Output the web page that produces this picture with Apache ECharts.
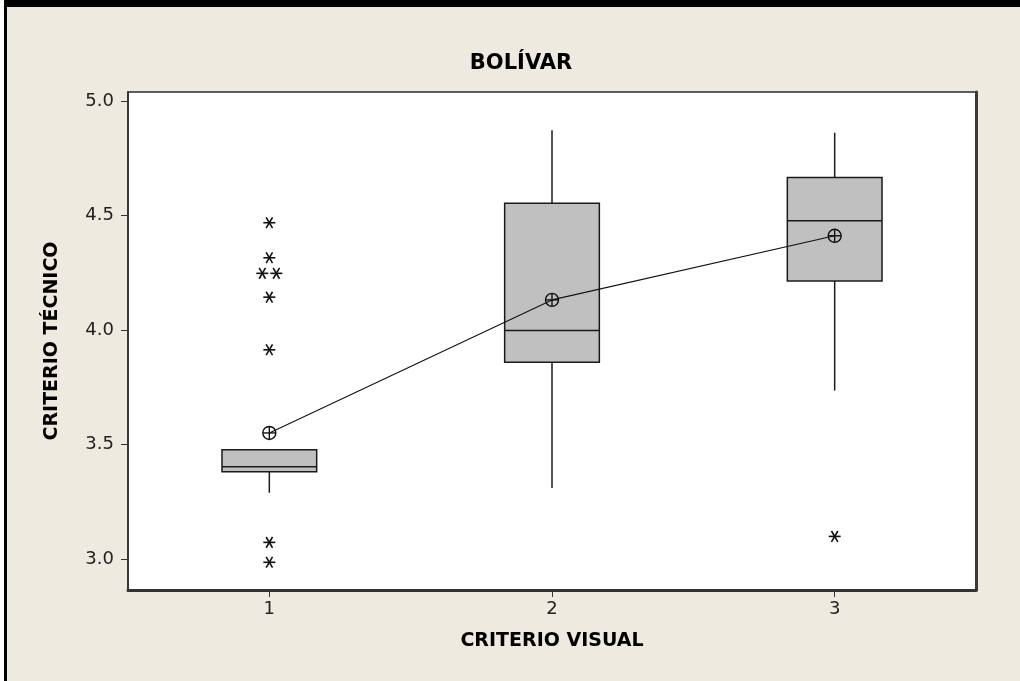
<!DOCTYPE html>
<html>
<head>
<meta charset="utf-8">
<title>BOLÍVAR</title>
<script src="https://cdn.jsdelivr.net/npm/echarts@6/dist/echarts.min.js"></script>
<style>
  html, body { margin: 0; padding: 0; background: #ffffff; }
  #frame { position: absolute; left: 0; top: 0; width: 1020px; height: 681px; background: #ffffff; }
  #panel { position: absolute; left: 4px; top: 0; width: 1016px; height: 681px; background: #eeeae0;
           border-top: 7px solid #000; border-left: 3px solid #000; box-sizing: border-box; }
  #chart { position: absolute; left: 0; top: 0; width: 1020px; height: 681px; }
</style>
</head>
<body>
<div id="frame"><div id="panel"></div></div>
<div id="chart"></div>
<script>
// Groups on the horizontal axis
const categories = ['1', '2', '3'];

// Five-number summaries per group (whisker ends, quartiles, median)
const whiskerLow  = [3.29, 3.31, 3.736];
const quartile1   = [3.381, 3.86, 4.215];
const medians     = [3.403, 3.998, 4.478];
const quartile3   = [3.477, 4.554, 4.667];
const whiskerHigh = [3.477, 4.873, 4.862];

// Group means, joined by a line
const means = [3.551, 4.132, 4.412];

// Outlying observations per group
const outliers1 = [4.469, 4.316, 4.248, 4.248, 4.144, 3.914, 3.073, 2.986];
const outliers2 = [];
const outliers3 = [3.099];

// Vertical axis tick values
const yTicks = [3.0, 3.5, 4.0, 4.5, 5.0];

const boxData = categories.map((c, i) =>
  [i, whiskerLow[i], quartile1[i], medians[i], quartile3[i], whiskerHigh[i]]);

// Outlier points; tied values get a slot index so they sit side by side
const outlierData = [];
[outliers1, outliers2, outliers3].forEach((list, i) => {
  const counts = {};
  list.forEach(v => { counts[v] = (counts[v] || 0) + 1; });
  const seen = {};
  list.forEach(v => {
    const k = seen[v] || 0;
    seen[v] = k + 1;
    outlierData.push([i, v, k - (counts[v] - 1) / 2]);
  });
});

const meanData = means.map((m, i) => [i, m]);

const ink = '#1a1a1a';
const labelFont = { fontFamily: 'DejaVu Sans', fontSize: 18, color: '#222' };
const nameFont = { fontFamily: 'DejaVu Sans', fontWeight: 'bold', fontSize: 19, color: '#000' };
const chart = echarts.init(document.getElementById('chart'), null, { renderer: 'canvas' });

chart.setOption({
  backgroundColor: 'transparent',
  animation: false,
  title: {
    text: 'BOLÍVAR',
    left: 516,
    top: 48,
    textAlign: 'center',
    textStyle: { fontFamily: 'DejaVu Sans', fontWeight: 'bold', fontSize: 21, color: '#000' }
  },
  grid: {
    left: 128, right: 44, top: 92, bottom: 91,
    show: true, backgroundColor: '#ffffff', borderColor: '#2b2b2b', borderWidth: 1.5,
    outerBoundsMode: 'none'
  },
  xAxis: {
    type: 'category',
    data: categories,
    boundaryGap: true,
    name: 'CRITERIO VISUAL',
    nameLocation: 'middle',
    nameGap: 42,
    nameTextStyle: nameFont,
    axisLine: { show: true, lineStyle: { color: '#333', width: 3 } },
    axisTick: { show: true, alignWithLabel: true, length: 7, lineStyle: { color: '#333', width: 1 } },
    axisLabel: Object.assign({ margin: 10 }, labelFont),
    splitLine: { show: false }
  },
  yAxis: [{
    type: 'value',
    min: 2.865,
    max: 5.04,
    name: 'CRITERIO TÉCNICO',
    nameLocation: 'middle',
    nameGap: 66,
    nameRotate: 90,
    nameTextStyle: nameFont,
    axisLine: { show: true, lineStyle: { color: '#2b2b2b', width: 1.5 } },
    axisTick: { show: true, length: 7, customValues: yTicks, lineStyle: { color: '#333', width: 1 } },
    axisLabel: Object.assign({
      margin: 14,
      customValues: yTicks,
      formatter: v => v.toFixed(1)
    }, labelFont),
    splitLine: { show: false }
  }, {
    type: 'value',
    position: 'right',
    min: 2.865,
    max: 5.04,
    axisLine: { show: true, lineStyle: { color: '#3a3a3a', width: 3 } },
    axisTick: { show: false },
    axisLabel: { show: false },
    splitLine: { show: false }
  }],
  series: [
    {
      name: 'box',
      type: 'custom',
      data: boxData,
      encode: { x: 0, y: [1, 2, 3, 4, 5] },
      renderItem: (params, api) => {
        const i = api.value(0);
        const lo = api.coord([i, api.value(1)]);
        const q1 = api.coord([i, api.value(2)]);
        const md = api.coord([i, api.value(3)]);
        const q3 = api.coord([i, api.value(4)]);
        const hi = api.coord([i, api.value(5)]);
        const w = api.size([1, 0])[0] * 0.335;
        const x = q1[0];
        const st = { stroke: ink, lineWidth: 1.5 };
        const kids = [];
        if (hi[1] < q3[1] - 0.5) kids.push({ type: 'line', shape: { x1: x, y1: hi[1], x2: x, y2: q3[1] }, style: st });
        if (lo[1] > q1[1] + 0.5) kids.push({ type: 'line', shape: { x1: x, y1: q1[1], x2: x, y2: lo[1] }, style: st });
        kids.push({ type: 'rect', shape: { x: x - w / 2, y: q3[1], width: w, height: q1[1] - q3[1] },
                    style: { fill: '#c0c0c0', stroke: ink, lineWidth: 1.5 } });
        kids.push({ type: 'line', shape: { x1: x - w / 2, y1: md[1], x2: x + w / 2, y2: md[1] }, style: st });
        return { type: 'group', children: kids };
      },
      z: 2
    },
    {
      name: 'mean line',
      type: 'line',
      data: meanData,
      symbol: 'none',
      lineStyle: { color: '#111', width: 1.1 },
      z: 3
    },
    {
      name: 'mean',
      type: 'custom',
      data: meanData,
      encode: { x: 0, y: 1 },
      renderItem: (params, api) => {
        const p = api.coord([api.value(0), api.value(1)]);
        const r = 6.5;
        const st = { stroke: '#111', lineWidth: 1.4, fill: null };
        return { type: 'group', children: [
          { type: 'circle', shape: { cx: p[0], cy: p[1], r: r }, style: { stroke: '#111', lineWidth: 1.4, fill: 'rgba(0,0,0,0)' } },
          { type: 'line', shape: { x1: p[0] - r, y1: p[1], x2: p[0] + r, y2: p[1] }, style: st },
          { type: 'line', shape: { x1: p[0], y1: p[1] - r, x2: p[0], y2: p[1] + r }, style: st }
        ] };
      },
      z: 4
    },
    {
      name: 'outliers',
      type: 'custom',
      data: outlierData,
      encode: { x: 0, y: 1 },
      renderItem: (params, api) => {
        const p = api.coord([api.value(0), api.value(1)]);
        const cx = p[0] + api.value(2) * 14;
        const cy = p[1];
        const a = 6, dx = 3.2, dy = 5.4;
        const st = { stroke: '#111', lineWidth: 1.6 };
        return { type: 'group', children: [
          { type: 'line', shape: { x1: cx - a, y1: cy, x2: cx + a, y2: cy }, style: st },
          { type: 'line', shape: { x1: cx - dx, y1: cy - dy, x2: cx + dx, y2: cy + dy }, style: st },
          { type: 'line', shape: { x1: cx + dx, y1: cy - dy, x2: cx - dx, y2: cy + dy }, style: st }
        ] };
      },
      z: 5
    }
  ]
});
</script>
</body>
</html>
